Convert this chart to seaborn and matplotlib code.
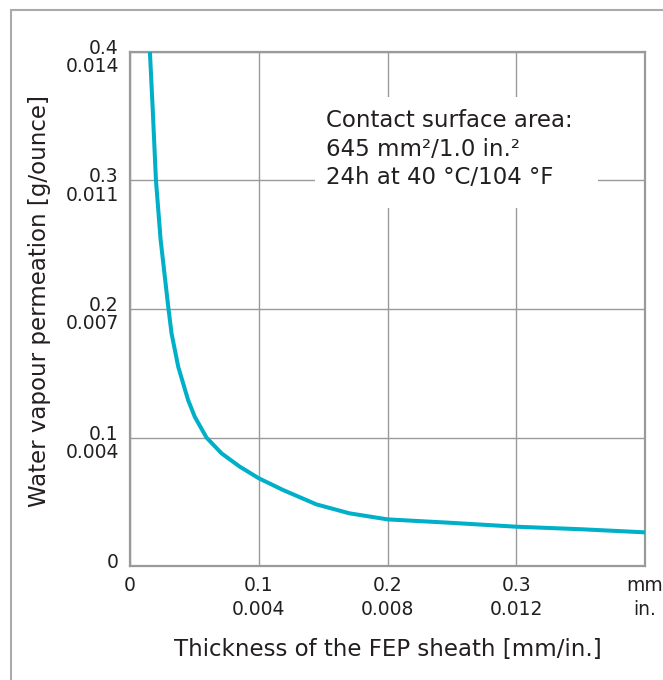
import numpy as np
import pandas as pd
import matplotlib.pyplot as plt
from matplotlib.lines import Line2D
from matplotlib.patches import Rectangle
from matplotlib.transforms import ScaledTranslation
import seaborn as sns

# values
thickness_mm = [0.0155, 0.0176, 0.0202, 0.0238, 0.0297, 0.0323, 0.0375, 0.0452,
                0.0504, 0.0594, 0.0711, 0.0853, 0.0930, 0.1000, 0.1190, 0.1447,
                0.1705, 0.2000, 0.2480, 0.3000, 0.3510, 0.4000]
permeation_g = [0.400, 0.357, 0.300, 0.254, 0.202, 0.181, 0.155, 0.129,
                0.116, 0.100, 0.0877, 0.0773, 0.0726, 0.0683, 0.0591, 0.048,
                0.041, 0.0363, 0.0337, 0.0306, 0.0286, 0.0262]

x_ticks = [0, 0.1, 0.2, 0.3, 0.4]
x_labels = ["0", "0.1\n0.004", "0.2\n0.008", "0.3\n0.012", "mm\nin."]
y_ticks = [0, 0.1, 0.2, 0.3, 0.4]
y_labels = ["0", "0.1\n0.004", "0.2\n0.007", "0.3\n0.011", "0.4\n0.014"]

note = "Contact surface area:\n645 mm\u00b2/1.0 in.\u00b2\n24h at 40 \u00b0C/104 \u00b0F"

df = pd.DataFrame({"thickness": thickness_mm, "permeation": permeation_g})

sns.set_style("white")
plt.rcParams["font.family"] = ["DejaVu Sans"]

grey = "#9a9a9a"
text_col = "#231f20"

fig = plt.figure(figsize=(6.63, 6.80), dpi=100)
ax = fig.add_axes([0.196, 0.1676, 0.777, 0.756])

sns.lineplot(data=df, x="thickness", y="permeation", ax=ax, color="#00afc8",
             linewidth=2.9, sort=False, zorder=4)
ax.lines[0].set_solid_joinstyle("round")

ax.set_xlim(0, 0.4)
ax.set_ylim(0, 0.4)
ax.set_xticks(x_ticks)
ax.set_xticklabels(x_labels, fontsize=13.5, color=text_col, linespacing=1.35)
ax.set_yticks(y_ticks)
ax.set_yticklabels(y_labels, fontsize=13.5, color=text_col, linespacing=0.95)
ax.tick_params(axis="x", length=0, pad=7)
ax.tick_params(axis="y", length=0, pad=8)

# nudge y tick labels like the reference
for lab in ax.get_yticklabels():
    dy = 6 if lab.get_text() == "0" else -4
    lab.set_transform(lab.get_transform() + ScaledTranslation(0, dy / 100, fig.dpi_scale_trans))

ax.grid(True, color=grey, linewidth=1)
ax.set_axisbelow(True)
for s in ax.spines.values():
    s.set_color(grey)
    s.set_linewidth(1.6)

ax.set_xlabel("Thickness of the FEP sheath [mm/in.]", fontsize=16.5,
              color=text_col, labelpad=14)
ax.set_ylabel("Water vapour permeation [g/ounce]", fontsize=16.5,
              color=text_col, labelpad=10)
ax.yaxis.label.set_transform(ax.yaxis.label.get_transform()
                             + ScaledTranslation(0, 8 / 100, fig.dpi_scale_trans))

# white panel behind the note
ax.add_patch(Rectangle((0.1434, 0.2786), 0.2202, 0.0864, facecolor="white",
                       edgecolor="none", zorder=2))
ax.text(0.152, 0.3555, note, fontsize=16.5, color=text_col, va="top",
        ha="left", linespacing=1.3, zorder=3)

# outer frame (left and top edge visible)
fig.add_artist(Line2D([11 / 663, 11 / 663], [0, 1 - 10 / 680], color="#aaaaaa", lw=1.5))
fig.add_artist(Line2D([11 / 663, 1], [1 - 10 / 680, 1 - 10 / 680], color="#aaaaaa", lw=1.5))

fig.savefig("out.png", dpi=100, facecolor="white")
